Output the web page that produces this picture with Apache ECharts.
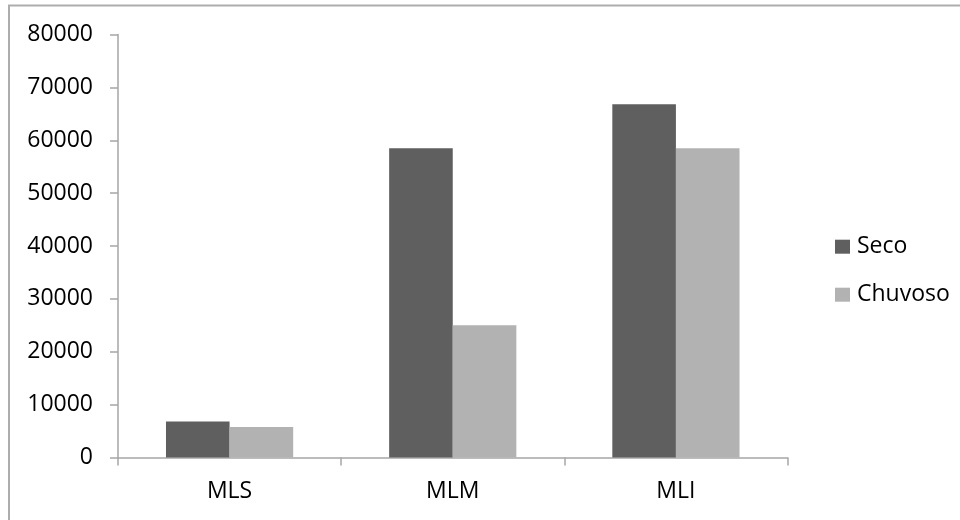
<!DOCTYPE html>
<html>
<head>
<meta charset="utf-8">
<script src="https://cdn.jsdelivr.net/npm/echarts@6/dist/echarts.min.js"></script>
<style>html,body{margin:0;padding:0;background:#fff;}#c{width:960px;height:520px;}</style>
</head>
<body>
<div id="c"></div>
<script>
var categories = ['MLS', 'MLM', 'MLI'];
var seriesNames = ['Seco', 'Chuvoso'];
var seco = [6800, 58500, 66800];
var chuvoso = [5750, 25000, 58500];
var yTicks = { min: 0, max: 80000, interval: 10000 };

var chart = echarts.init(document.getElementById('c'), null, { renderer: 'canvas' });
var font = '"Open Sans", "Noto Sans", sans-serif';
chart.setOption({
  animation: false,
  backgroundColor: '#ffffff',
  graphic: [{
    type: 'rect',
    shape: { x: 9, y: 5.5, width: 1000, height: 600 },
    style: { fill: 'none', stroke: '#adadad', lineWidth: 2 },
    silent: true
  }],
  grid: { left: 118, right: 172.5, top: 34.5, bottom: 62.5, containLabel: false },
  legend: {
    orient: 'vertical',
    left: 830,
    top: 229.7,
    itemWidth: 15,
    itemHeight: 14,
    itemGap: 24,
    icon: 'rect',
    data: seriesNames,
    textStyle: { fontFamily: font, fontSize: 23, color: '#000', lineHeight: 24, padding: [0, 0, 0, 2] }
  },
  xAxis: {
    type: 'category',
    data: categories,
    axisLine: { show: true, lineStyle: { color: '#a6a6a6', width: 1.5 } },
    axisTick: { show: true, length: 8, lineStyle: { color: '#a6a6a6', width: 1.5 } },
    axisLabel: { fontFamily: font, fontSize: 23, color: '#000', margin: 22 },
    splitLine: { show: false }
  },
  yAxis: {
    type: 'value',
    min: yTicks.min,
    max: yTicks.max,
    interval: yTicks.interval,
    axisLine: { show: true, lineStyle: { color: '#a6a6a6', width: 1.5 } },
    axisTick: { show: true, length: 8, lineStyle: { color: '#a6a6a6', width: 1.5 } },
    axisLabel: { fontFamily: font, fontSize: 23, color: '#000', margin: 25,
      formatter: function (v) { return String(v); } },
    splitLine: { show: false }
  },
  series: [
    { name: seriesNames[0], type: 'bar', data: seco, barWidth: '28.5%', barGap: '0%',
      itemStyle: { color: '#5f5f5f' } },
    { name: seriesNames[1], type: 'bar', data: chuvoso, barWidth: '28.5%', barGap: '0%',
      itemStyle: { color: '#b2b2b2' } }
  ]
});
</script>
</body>
</html>
